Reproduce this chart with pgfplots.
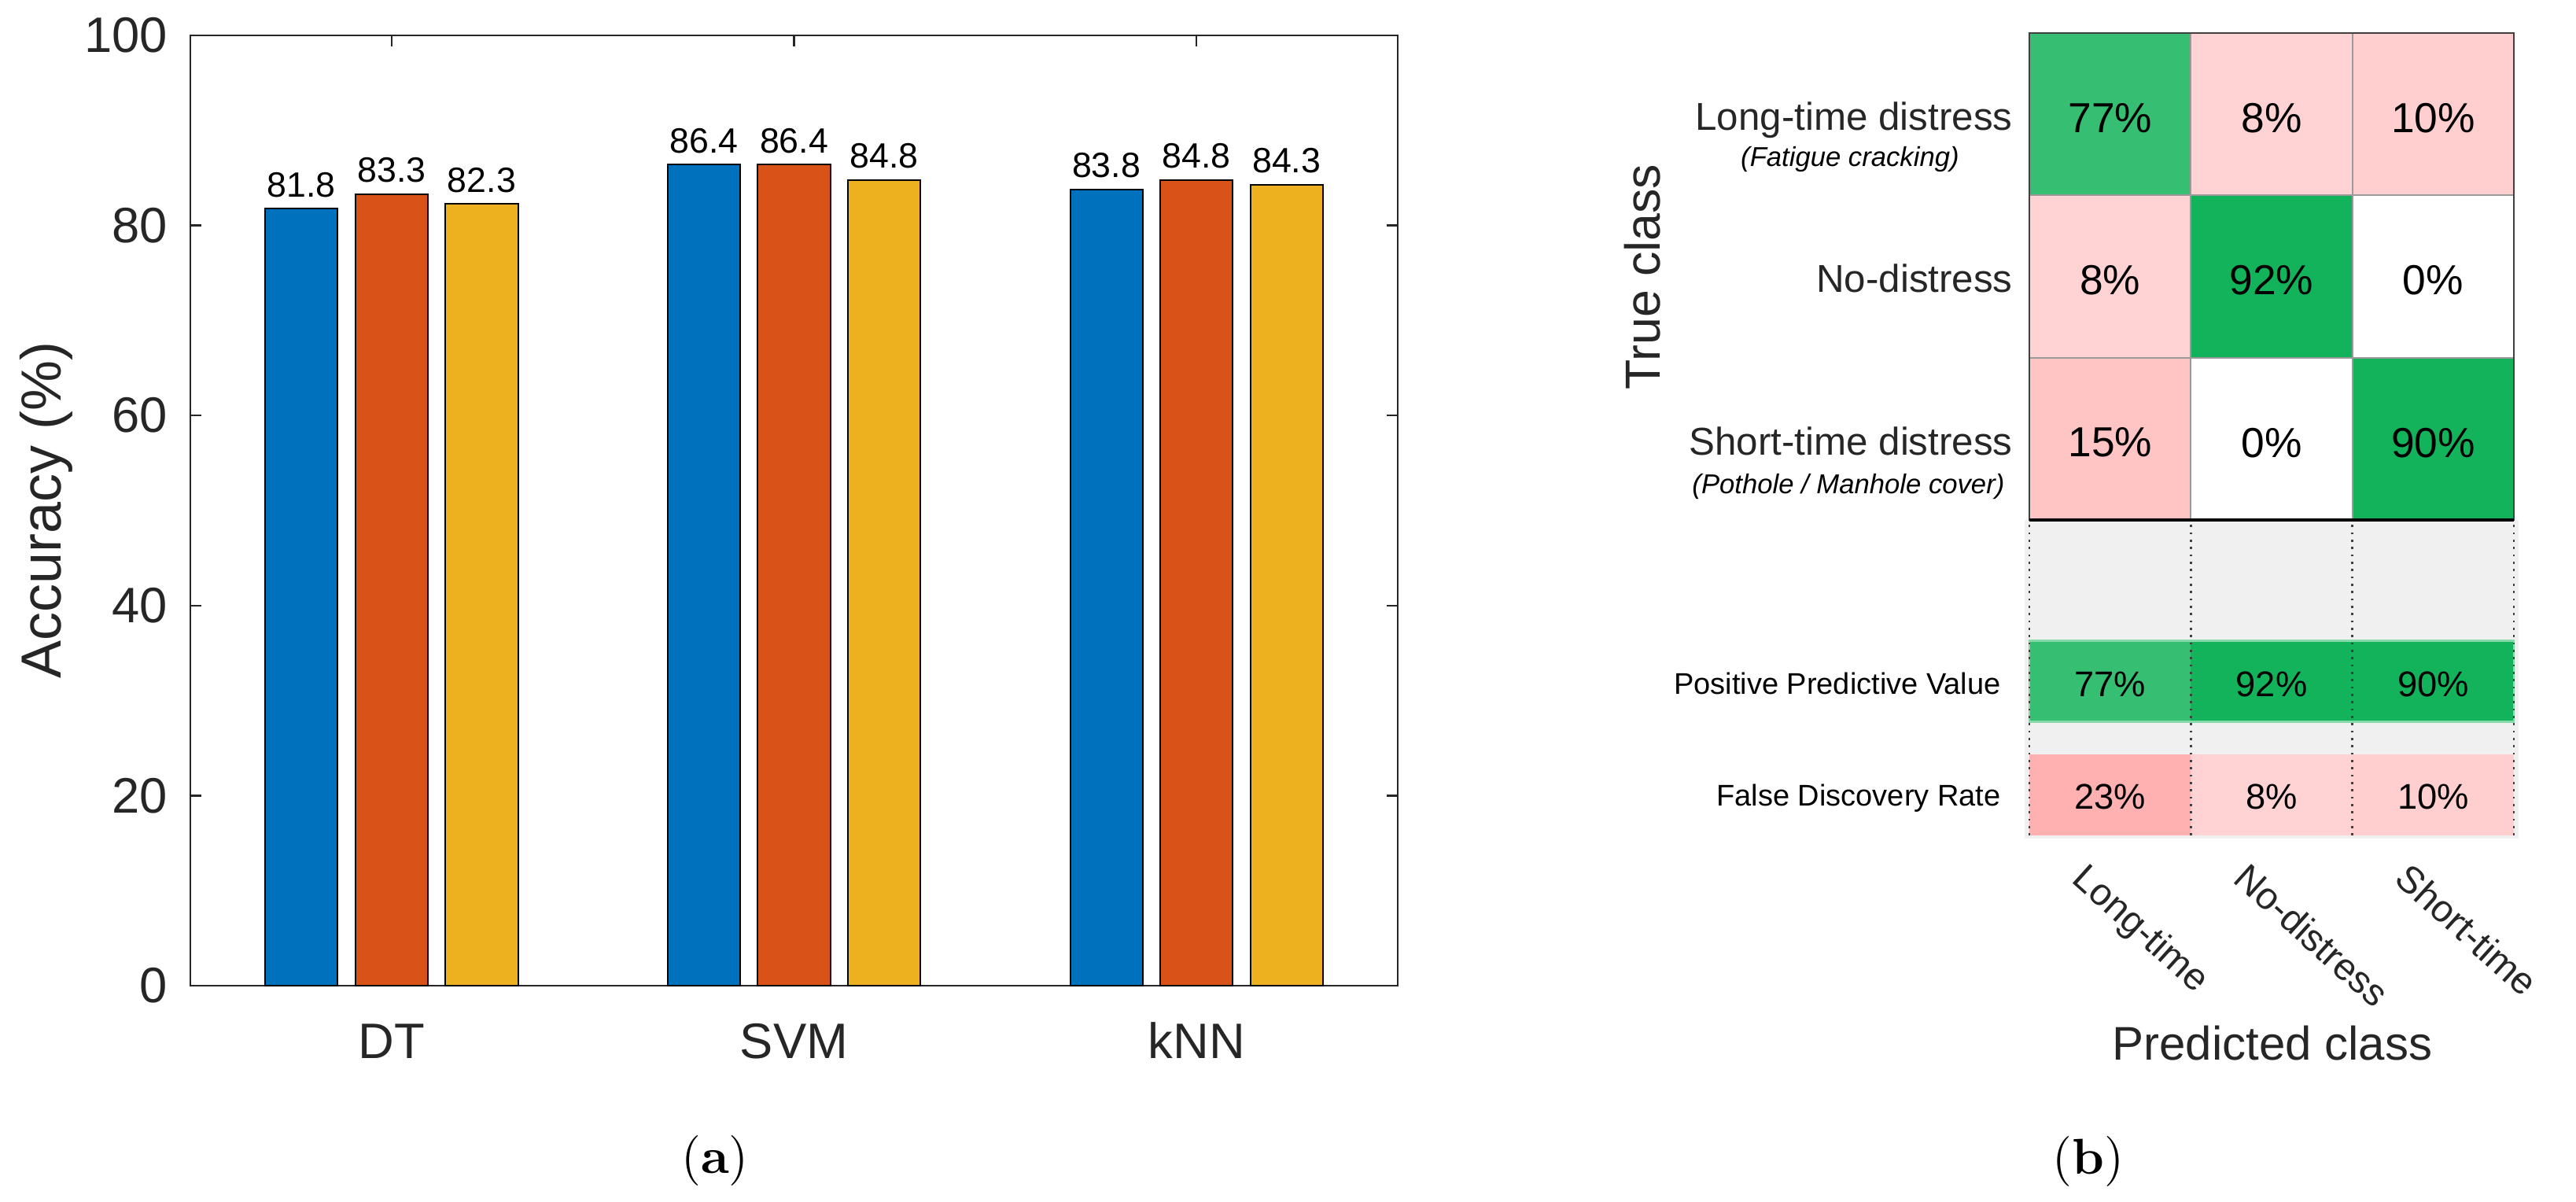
\documentclass[border=0pt]{standalone}
\usepackage{pgfplots}
\pgfplotsset{compat=1.18}
\usepackage{fontspec}
\newfontfamily\arial{Liberation Sans}
\definecolor{cBlue}{HTML}{0072BD}
\definecolor{cOrange}{HTML}{D95319}
\definecolor{cYellow}{HTML}{EDB120}
\definecolor{axgray}{HTML}{262626}
\definecolor{gA}{HTML}{36BF73}
\definecolor{gB}{HTML}{13B35B}
\definecolor{pA}{HTML}{FFD3D3}
\definecolor{pB}{HTML}{FFCFCF}
\definecolor{pC}{HTML}{FFC4C4}
\definecolor{pD}{HTML}{FFB0B0}
\definecolor{bgGray}{HTML}{F0F0F0}
\definecolor{gridGray}{HTML}{9A9A9A}
\definecolor{frameGray}{HTML}{404040}
\definecolor{ppvEdge}{HTML}{86D9A8}
\newcommand{\fs}[1]{\fontsize{#1}{#1}\selectfont}

\begin{document}
\begin{tikzpicture}
\path[use as bounding box] (0,0) rectangle (491.25pt,229.2pt);

% ---------------- (a) grouped bars ----------------
\begin{axis}[
  at={(36.3pt,41.25pt)}, anchor=south west,
  scale only axis, width=230.25pt, height=181.2pt,
  xmin=0.5, xmax=3.5, ymin=0, ymax=100,
  xtick={1,2,3}, xticklabels={DT,SVM,kNN},
  ytick={0,20,40,60,80,100},
  tick align=inside, tick pos=both,
  major tick length=2.1pt,
  axis line style={draw=axgray, line width=0.35pt},
  tick style={draw=axgray, line width=0.35pt},
  tick label style={font=\arial\fs{9.5}, text=axgray, inner sep=0pt},
  /pgf/number format/assume math mode=true,
  xticklabel style={anchor=base, yshift=-13.95pt},
  yticklabel style={anchor=east, xshift=-4.2pt},
  clip=false,
  nodes near coords={\pgfmathprintnumber[fixed,fixed zerofill,precision=1]{\pgfplotspointmeta}},
  every node near coord/.append style={font=\arial\fs{6.7}, text=black, anchor=south, inner sep=0pt, yshift=2pt},
]
\addplot[ybar, bar width=0.18, bar shift=-0.224, fill=cBlue, draw=black, line width=0.3pt,
  every node near coord/.append style={xshift=-17.19pt}]
  coordinates {(1,81.8) (2,86.4) (3,83.8)};
\addplot[ybar, bar width=0.18, bar shift=0, fill=cOrange, draw=black, line width=0.3pt]
  coordinates {(1,83.3) (2,86.4) (3,84.8)};
\addplot[ybar, bar width=0.18, bar shift=0.224, fill=cYellow, draw=black, line width=0.3pt,
  every node near coord/.append style={xshift=17.19pt}]
  coordinates {(1,82.3) (2,84.8) (3,84.3)};
\end{axis}

% ---------------- (b) confusion chart ----------------
\begin{axis}[
  at={(387pt,69.9pt)}, anchor=south west,
  scale only axis, width=92.4pt, height=153pt,
  xmin=0.5, xmax=3.5, ymin=0, ymax=4.944,
  hide axis, clip=false,
  /pgf/number format/assume math mode=true,
]
% summary background
\addplot[fill=bgGray, draw=none] coordinates {(0.47,-0.02) (3.53,-0.02) (3.53,1.944) (0.47,1.944)} -- cycle;
% confusion matrix cells (row Long-time)
\addplot[fill=gA, draw=gridGray, line width=0.3pt] coordinates {(0.5,3.944) (1.5,3.944) (1.5,4.944) (0.5,4.944)} -- cycle;
\addplot[fill=pA, draw=gridGray, line width=0.3pt] coordinates {(1.5,3.944) (2.5,3.944) (2.5,4.944) (1.5,4.944)} -- cycle;
\addplot[fill=pB, draw=gridGray, line width=0.3pt] coordinates {(2.5,3.944) (3.5,3.944) (3.5,4.944) (2.5,4.944)} -- cycle;
% row No-distress
\addplot[fill=pA, draw=gridGray, line width=0.3pt] coordinates {(0.5,2.944) (1.5,2.944) (1.5,3.944) (0.5,3.944)} -- cycle;
\addplot[fill=gB, draw=gridGray, line width=0.3pt] coordinates {(1.5,2.944) (2.5,2.944) (2.5,3.944) (1.5,3.944)} -- cycle;
\addplot[fill=white, draw=gridGray, line width=0.3pt] coordinates {(2.5,2.944) (3.5,2.944) (3.5,3.944) (2.5,3.944)} -- cycle;
% row Short-time
\addplot[fill=pC, draw=gridGray, line width=0.3pt] coordinates {(0.5,1.944) (1.5,1.944) (1.5,2.944) (0.5,2.944)} -- cycle;
\addplot[fill=white, draw=gridGray, line width=0.3pt] coordinates {(1.5,1.944) (2.5,1.944) (2.5,2.944) (1.5,2.944)} -- cycle;
\addplot[fill=gB, draw=gridGray, line width=0.3pt] coordinates {(2.5,1.944) (3.5,1.944) (3.5,2.944) (2.5,2.944)} -- cycle;
% frame
\addplot[draw=frameGray, line width=0.4pt] coordinates {(0.5,1.944) (3.5,1.944) (3.5,4.944) (0.5,4.944)} -- cycle;
\addplot[draw=black, line width=0.5pt] coordinates {(0.5,1.944) (3.5,1.944)};
% PPV row
\addplot[fill=gA, draw=none] coordinates {(0.5,0.7) (1.5,0.7) (1.5,1.2) (0.5,1.2)} -- cycle;
\addplot[fill=gB, draw=none] coordinates {(1.5,0.7) (2.5,0.7) (2.5,1.2) (1.5,1.2)} -- cycle;
\addplot[fill=gB, draw=none] coordinates {(2.5,0.7) (3.5,0.7) (3.5,1.2) (2.5,1.2)} -- cycle;
\addplot[draw=ppvEdge, line width=0.35pt] coordinates {(0.5,0.7) (3.5,0.7) (3.5,1.2) (0.5,1.2)} -- cycle;
% FDR row
\addplot[fill=pD, draw=none] coordinates {(0.5,0) (1.5,0) (1.5,0.5) (0.5,0.5)} -- cycle;
\addplot[fill=pA, draw=none] coordinates {(1.5,0) (2.5,0) (2.5,0.5) (1.5,0.5)} -- cycle;
\addplot[fill=pB, draw=none] coordinates {(2.5,0) (3.5,0) (3.5,0.5) (2.5,0.5)} -- cycle;
% dotted separators
\addplot[draw=frameGray, line width=0.4pt, dash pattern=on 0.4pt off 1pt] coordinates {(0.5,0) (0.5,1.944)};
\addplot[draw=frameGray, line width=0.4pt, dash pattern=on 0.4pt off 1pt] coordinates {(1.5,0) (1.5,1.944)};
\addplot[draw=frameGray, line width=0.4pt, dash pattern=on 0.4pt off 1pt] coordinates {(2.5,0) (2.5,1.944)};
\addplot[draw=frameGray, line width=0.4pt, dash pattern=on 0.4pt off 1pt] coordinates {(3.5,0) (3.5,1.944)};
% cell values
\addplot[draw=none, point meta=explicit,
  nodes near coords={\pgfmathprintnumber[fixed,precision=0]{\pgfplotspointmeta}\%},
  every node near coord/.append style={anchor=center, font=\arial\fs{8}, text=black, inner sep=0pt}]
  table[meta=v] {
x y v
1 4.42 77
2 4.42 8
3 4.42 10
1 3.42 8
2 3.42 92
3 3.42 0
1 2.42 15
2 2.42 0
3 2.42 90
};
% PPV / FDR values
\addplot[draw=none, point meta=explicit,
  nodes near coords={\pgfmathprintnumber[fixed,precision=0]{\pgfplotspointmeta}\%},
  every node near coord/.append style={anchor=center, font=\arial\fs{6.8}, text=black, inner sep=0pt}]
  table[meta=v] {
x y v
1 0.93 77
2 0.93 92
3 0.93 90
1 0.24 23
2 0.24 8
3 0.24 10
};
\end{axis}

% ---------------- texts (pixel coordinates of the reference) ----------------
\begin{scope}[x=0.15pt, y=-0.15pt, shift={(0pt,229.2pt)}, every node/.style={inner sep=0pt, text=axgray}]
\node[rotate=90, anchor=base, font=\arial\fs{10.8}] at (77,649) {Accuracy (\%)};
\node[anchor=base, font=\fs{9.6}, text=black] at (909,1492) {(\textbf{a})};
\node[anchor=base, font=\fs{9.6}, text=black] at (2655,1493) {(\textbf{b})};

\node[anchor=base east, font=\arial\fs{7.4}] at (2560,166) {Long-time distress};
\node[anchor=base, font=\arial\itshape\fs{5.2}, text=black] at (2352,212) {(Fatigue cracking)};
\node[anchor=base east, font=\arial\fs{7.4}] at (2560,372) {No-distress};
\node[anchor=base east, font=\arial\fs{7.4}] at (2560,579) {Short-time distress};
\node[anchor=base, font=\arial\itshape\fs{5.2}, text=black] at (2350,628) {(Pothole / Manhole cover)};
\node[anchor=base east, font=\arial\fs{5.7}, text=black] at (2545,883) {Positive Predictive Value};
\node[anchor=base east, font=\arial\fs{5.7}, text=black] at (2545,1025) {False Discovery Rate};

\node[rotate=90, anchor=base, font=\arial\fs{9.4}] at (2111,352) {True class};
\node[anchor=base, font=\arial\fs{9}] at (2889,1348) {Predicted class};

\node[rotate=-42, anchor=north west, font=\arial\fs{7.2}] at (2656,1093) {Long-time};
\node[rotate=-42, anchor=north west, font=\arial\fs{7.2}] at (2861,1093) {No-distress};
\node[rotate=-42, anchor=north west, font=\arial\fs{7.2}] at (3066,1093) {Short-time};
\end{scope}
\end{tikzpicture}
\end{document}
